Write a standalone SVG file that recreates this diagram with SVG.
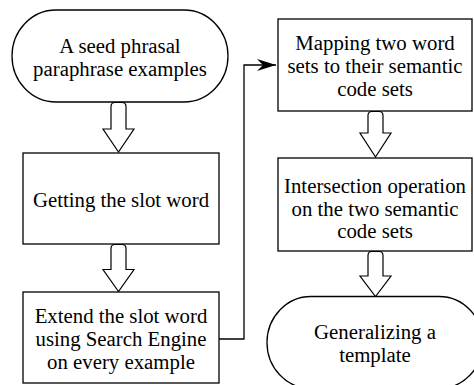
<svg xmlns="http://www.w3.org/2000/svg" width="474" height="385" viewBox="0 0 474 385">
<style>
.shape{fill:#fff;stroke:#000;stroke-width:1.3}
.blk{fill:#fff;stroke:#000;stroke-width:1.2;stroke-linejoin:miter}
.line{fill:none;stroke:#000;stroke-width:1.3}
.t{font-size:20.8px;fill:#000;text-anchor:middle}
</style>
<defs>
<marker id="ah" markerUnits="userSpaceOnUse" markerWidth="22" markerHeight="14" refX="19" refY="6.5" orient="auto">
<path d="M0,0.5 L19,6.5 L0,12.5 L6,6.5 Z" fill="#000"/>
</marker>
</defs>
<rect width="474" height="385" fill="#fff"/>
<g id="connectors">
<path class="line" d="M219,339 H244 V65 H276" marker-end="url(#ah)"/>
<path id="arrow1" class="blk" d="M111,129 V106.5 Q111,102.5 115,102.5 H122 Q126,102.5 126,106.5 V129 H134 L118.5,152 L103,129 Z"/>
<path id="arrow2" class="blk" d="M111,269.5 V248.5 Q111,244.5 115,244.5 H122 Q126,244.5 126,248.5 V269.5 H134 L118.5,291.5 L103,269.5 Z"/>
<path id="arrow3" class="blk" d="M368,133 V115.5 Q368,111.5 372,111.5 H379 Q383,111.5 383,115.5 V133 H391 L375.5,157 L360,133 Z"/>
<path id="arrow4" class="blk" d="M368,276 V255.5 Q368,251.5 372,251.5 H379 Q383,251.5 383,255.5 V276 H391 L375.5,296.5 L360,276 Z"/>
</g>
<g font-family="'Liberation Serif', 'DejaVu Serif', 'Times New Roman', serif">
<g id="n1">
<rect class="shape" x="12" y="10" width="216" height="92" rx="44" ry="46"/>
<text class="t" x="120" y="53">A seed phrasal</text>
<text class="t" x="120" y="76">paraphrase examples</text>
</g>
<g id="n2">
<rect class="shape" x="23" y="153" width="196" height="91"/>
<text class="t" x="121" y="207">Getting the slot word</text>
</g>
<g id="n3">
<rect class="shape" x="23" y="292" width="196" height="91"/>
<text class="t" x="121" y="323">Extend the slot word</text>
<text class="t" x="121" y="346">using Search Engine</text>
<text class="t" x="121" y="369">on every example</text>
</g>
<g id="n4">
<rect class="shape" x="278" y="19" width="194" height="92"/>
<text class="t" x="375" y="50">Mapping two word</text>
<text class="t" x="375" y="73">sets to their semantic</text>
<text class="t" x="375" y="96">code sets</text>
</g>
<g id="n5">
<rect class="shape" x="278" y="158" width="194" height="93"/>
<text class="t" x="375" y="193">Intersection operation</text>
<text class="t" x="375" y="216">on the two semantic</text>
<text class="t" x="375" y="238">code sets</text>
</g>
<g id="n6">
<rect class="shape" x="267" y="296.5" width="216" height="92" rx="44" ry="46"/>
<text class="t" x="375" y="339">Generalizing a</text>
<text class="t" x="375" y="362">template</text>
</g>
</g>
</svg>
